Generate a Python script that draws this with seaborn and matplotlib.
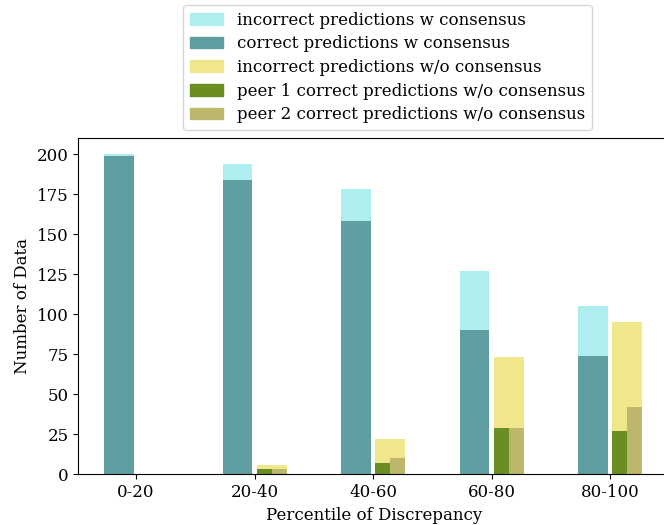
import numpy as np
import matplotlib
matplotlib.use('Agg')
import matplotlib.pyplot as plt
import seaborn as sns
from matplotlib.patches import Patch

# data
groups = ['0-20', '20-40', '40-60', '60-80', '80-100']
total_w_consensus = [200, 194, 178, 127, 105]    # incorrect + correct, w consensus
correct_w_consensus = [199, 184, 158, 90, 74]
total_wo_consensus = [0, 6, 22, 73, 95]           # incorrect w/o consensus (total height)
peer1_correct = [0, 3, 7, 29, 27]
peer2_correct = [0, 3, 10, 29, 42]

plt.rcParams['font.family'] = ['DejaVu Serif']
plt.rcParams['font.size'] = 12

x = np.arange(len(groups))
w = 0.25

fig = plt.figure(figsize=(6.64, 5.25), dpi=100)
ax = fig.add_axes([0.118, 0.0966, 0.89, 0.64])

def bars(pos, vals, width, color):
    sns.barplot(x=pos, y=vals, native_scale=True, width=width, color=color,
                saturation=1, errorbar=None, ax=ax)

bars(x - 0.145, total_w_consensus, w, 'paleturquoise')
bars(x - 0.145, correct_w_consensus, w, 'cadetblue')
bars(x + 0.145, total_wo_consensus, w, 'khaki')
bars(x + 0.145 - w / 4, peer1_correct, w / 2, 'olivedrab')
bars(x + 0.145 + w / 4, peer2_correct, w / 2, 'darkkhaki')

ax.set_xticks(x)
ax.set_xticklabels(groups)
ax.set_xlim(-0.487, 4.5)
ax.set_ylim(0, 210)
ax.set_xlabel('Percentile of Discrepancy')
ax.set_ylabel('Number of Data')
ax.spines['right'].set_visible(False)  # falls past the picture edge in the original

handles = [Patch(color='paleturquoise', label='incorrect predictions w consensus'),
           Patch(color='cadetblue', label='correct predictions w consensus'),
           Patch(color='khaki', label='incorrect predictions w/o consensus'),
           Patch(color='olivedrab', label='peer 1 correct predictions w/o consensus'),
           Patch(color='darkkhaki', label='peer 2 correct predictions w/o consensus')]
ax.legend(handles=handles, loc='lower center', bbox_to_anchor=(0.523, 1.0),
          labelspacing=0.4)

fig.savefig('out.png', dpi=100)
